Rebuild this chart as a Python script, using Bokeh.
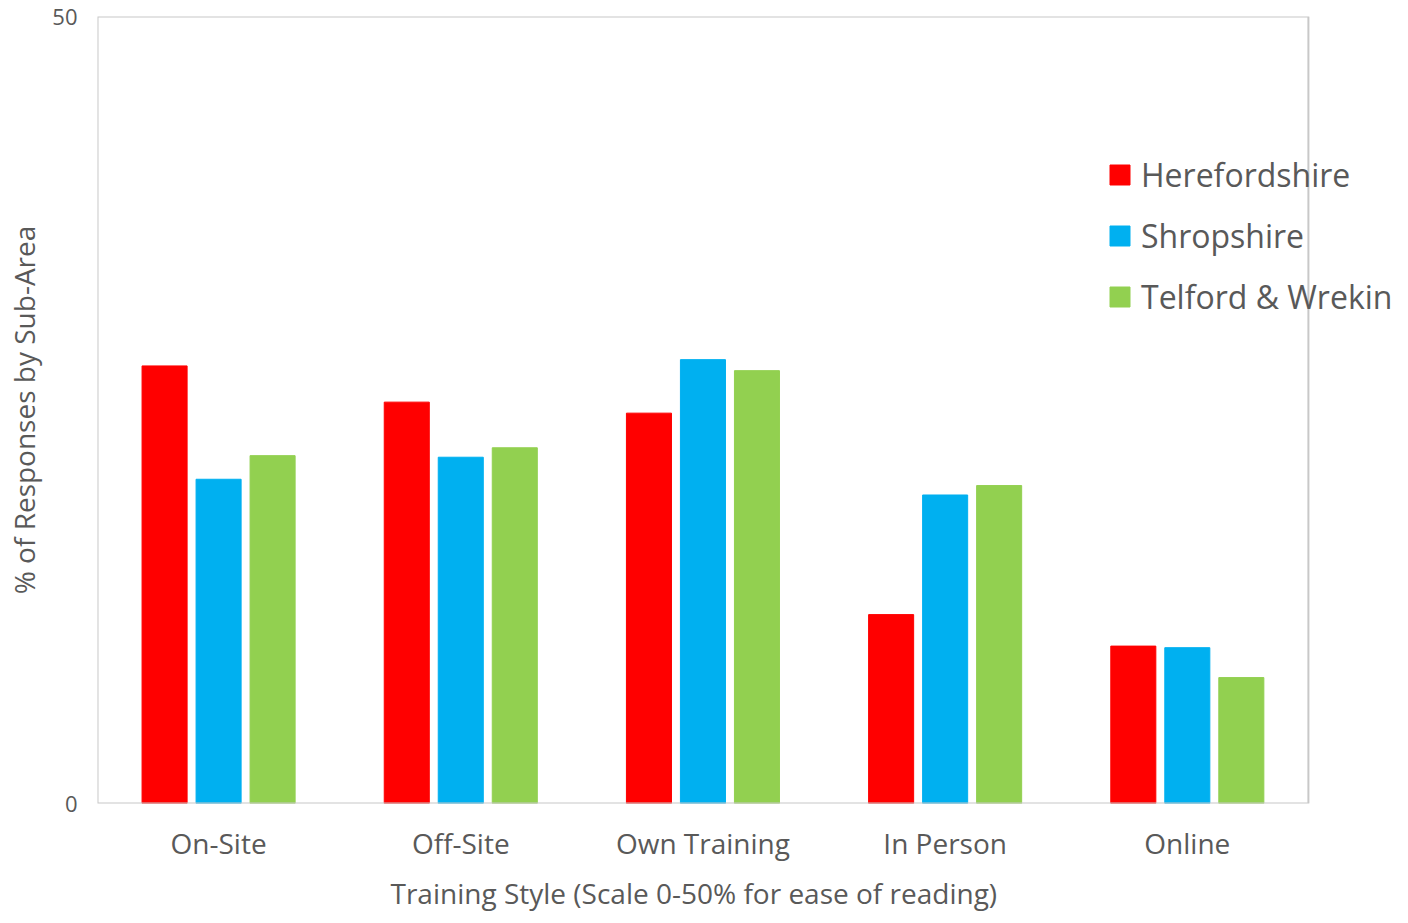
from bokeh.plotting import figure
from bokeh.models import ColumnDataSource, Range1d, FixedTicker, Legend, LegendItem, BoxAnnotation, Title
from bokeh.transform import dodge
from bokeh.embed import file_html
from bokeh.resources import INLINE

categories = ["On-Site", "Off-Site", "Own Training", "In Person", "Online"]
herefordshire = [27.8, 25.5, 24.8, 12.0, 10.0]
shropshire = [20.6, 22.0, 28.2, 19.6, 9.9]
telford = [22.1, 22.6, 27.5, 20.2, 8.0]
series_names = ["Herefordshire", "Shropshire", "Telford & Wrekin"]
series_colors = ["#FF0000", "#00B0F0", "#92D050"]
y_ticks = [0, 50]
x_title = "Training Style (Scale 0-50% for ease of reading)"
y_title = "% of Responses by Sub-Area"

FONT = "Open Sans"
TXT = "#595959"

centers = [i + 0.5 for i in range(len(categories))]
source = ColumnDataSource(dict(x=centers, h=herefordshire, s=shropshire, t=telford))

n_cat = len(categories)
p = figure(x_range=Range1d(0, 5.372), y_range=Range1d(0, 50), width=1398, height=921,
           output_backend="svg", toolbar_location=None,
           min_border_left=97, min_border_right=0, min_border_top=16, min_border_bottom=10)

renderers = []
for col, off, color in zip(["h", "s", "t"], [-0.223, 0.0, 0.223], series_colors):
    r = p.vbar(x=dodge("x", off), top=col, width=0.186, source=source,
               fill_color=color, line_color=color, line_width=1)
    renderers.append(r)

# visible plot-area border spanning only the category range
p.add_layout(BoxAnnotation(left=0, right=n_cat, bottom=0, top=50, fill_alpha=0,
                           line_color="#c8c8c8", line_alpha=1, line_width=2))

legend = Legend(items=[LegendItem(label=n, renderers=[r]) for n, r in zip(series_names, renderers)],
                location=(1010, 485), padding=0, margin=0, spacing=18,
                glyph_width=25, glyph_height=25, label_height=30, label_standoff=9,
                label_text_font=FONT, label_text_font_size="32px", label_text_color=TXT,
                border_line_color=None, background_fill_alpha=0)
p.add_layout(legend, "center")

p.grid.visible = False
p.outline_line_color = None

p.yaxis.ticker = FixedTicker(ticks=y_ticks)
p.yaxis.axis_line_color = None
p.yaxis.major_tick_line_color = None
p.yaxis.minor_tick_line_color = None
p.yaxis.major_label_text_font = FONT
p.yaxis.major_label_text_font_size = "22px"
p.yaxis.major_label_text_color = TXT
p.yaxis.major_label_standoff = 14
p.yaxis.axis_label = y_title
p.yaxis.axis_label_text_font = FONT
p.yaxis.axis_label_text_font_size = "28px"
p.yaxis.axis_label_text_font_style = "normal"
p.yaxis.axis_label_text_color = TXT
p.yaxis.axis_label_standoff = 6

p.xaxis.ticker = FixedTicker(ticks=centers)
p.xaxis.major_label_overrides = {c: lab for c, lab in zip(centers, categories)}
p.xaxis.axis_line_color = None
p.xaxis.major_tick_line_color = None
p.xaxis.minor_tick_line_color = None
p.xaxis.major_label_text_font = FONT
p.xaxis.major_label_text_font_size = "28px"
p.xaxis.major_label_text_color = TXT
p.xaxis.major_label_standoff = 14

title = Title(text=x_title, align="left", offset=293, standoff=17, vertical_align="middle",
              text_font=FONT, text_font_size="28px", text_font_style="normal", text_color=TXT,
              text_line_height=0.6)
p.add_layout(title, "below")

open("out.html", "w").write(file_html(p, INLINE))
